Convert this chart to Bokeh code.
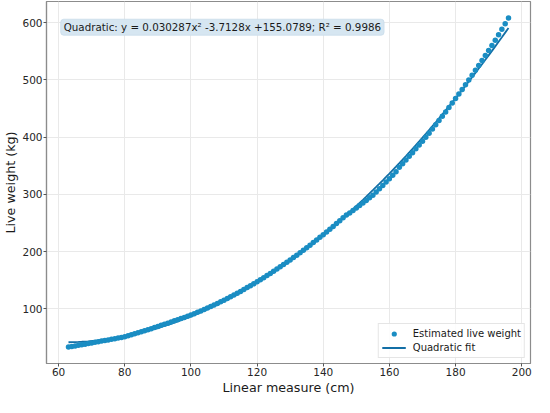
import numpy as np
from bokeh.plotting import figure
from bokeh.models import Range1d, FixedTicker, Label, Legend, LegendItem, ColumnDataSource
from bokeh.embed import file_html
from bokeh.resources import INLINE

# ---- data ----
MEASURE_START_CM = 63
MEASURE_END_CM = 196

WEIGHT_LOW = [33.0, 34.0, 35.0, 36.1, 37.1, 38.1, 39.2, 40.2, 41.3, 42.3, 43.4, 44.5,
              45.5, 46.6, 47.7, 48.8, 49.9, 51.0]
WEIGHT_MID1 = [52.7, 54.4, 56.2, 58.0, 59.8, 61.6, 63.4, 65.2, 67.1, 69.0, 70.9, 72.8,
               74.8, 76.8, 78.8, 80.8, 82.8, 84.8, 86.9, 89.0]
WEIGHT_MID2 = [91.3, 93.7, 96.2, 98.7, 101.3, 103.9, 106.6, 109.3, 112.2, 115.0,
               118.0, 121.0, 124.0, 127.1, 130.3, 133.6, 136.9, 140.2, 143.6, 147.1,
               150.7, 154.3, 157.9, 161.7, 165.4, 169.3, 173.2, 177.2, 181.2, 185.3,
               189.4, 193.6, 197.9, 202.2, 206.6, 211.1, 215.6, 220.2, 224.8, 229.5,
               234.2, 239.0, 243.9, 248.9, 253.9, 258.9, 264.0]
WEIGHT_DIP = [267.5, 271.7, 276.0, 280.4, 284.8, 289.3, 293.9, 298.6, 304.2, 309.9,
              315.6, 321.4, 327.3, 333.3, 339.4]
WEIGHT_HIGH = [347.5, 353.7, 360.0, 366.4, 372.9, 379.5, 386.2, 393.0, 399.9, 407.0,
               414.2, 421.5, 428.9, 436.4, 444.0, 451.7, 459.5, 467.4, 475.4, 483.5,
               491.7, 500.0, 508.4, 516.8, 525.3, 533.9, 542.6, 551.4, 560.4, 569.6,
               579.0, 588.6, 598.4, 608.4]

WEIGHT_KG = WEIGHT_LOW + WEIGHT_MID1 + WEIGHT_MID2 + WEIGHT_DIP + WEIGHT_HIGH
MEASURE_CM = list(range(MEASURE_START_CM, MEASURE_END_CM + 1))

FIT_A, FIT_B, FIT_C = 0.030287, -3.7128, 155.0789
R2 = 0.9986

X_TICKS = [60, 80, 100, 120, 140, 160, 180, 200]
Y_TICKS = [100, 200, 300, 400, 500, 600]

# ---- derived ----
xs = np.array(MEASURE_CM, dtype=float)
ys = np.array(WEIGHT_KG)
fit_y = FIT_A * xs ** 2 + FIT_B * xs + FIT_C

xpad = (xs.max() - xs.min()) * 0.05
ymin, ymax = min(ys.min(), fit_y.min()), max(ys.max(), fit_y.max())
ypad = (ymax - ymin) * 0.05

FONT = "DejaVu Sans"
DOT_COLOR = "#1a8dc3"
LINE_COLOR = "#136fa6"

p = figure(width=534, height=397, output_backend="svg", toolbar_location=None,
           x_range=Range1d(xs.min() - xpad, xs.max() + xpad),
           y_range=Range1d(ymin - ypad, ymax + ypad),
           min_border_left=30, min_border_right=4, min_border_top=1, min_border_bottom=20)

src = ColumnDataSource(dict(x=xs, y=ys, fy=fit_y))
r_fit = p.line("x", "fy", source=src, line_color=LINE_COLOR, line_width=1.8)
r_pts = p.scatter("x", "y", source=src, size=5.5, color=DOT_COLOR, line_color=None)

p.xaxis.ticker = FixedTicker(ticks=X_TICKS)
p.yaxis.ticker = FixedTicker(ticks=Y_TICKS)
p.xaxis.axis_label = "Linear measure (cm)"
p.yaxis.axis_label = "Live weight (kg)"
for ax in (p.xaxis, p.yaxis):
    ax.axis_label_text_font = FONT
    ax.axis_label_text_font_size = "12.7px"
    ax.axis_label_text_font_style = "normal"
    ax.axis_label_text_color = "#1a1a1a"
    ax.axis_label_standoff = 1
    ax.major_label_text_font = FONT
    ax.major_label_text_font_size = "10.5px"
    ax.major_label_text_color = "#262626"
    ax.major_label_standoff = 1
    ax.major_tick_out = 3
    ax.major_tick_in = 0
    ax.minor_tick_out = 0
    ax.minor_tick_in = 0
    ax.major_tick_line_color = "#555555"
    ax.axis_line_color = "#8c8c8c"
    ax.axis_line_width = 1.2

p.outline_line_color = "#8c8c8c"
p.outline_line_width = 1.2
p.grid.grid_line_color = "#e9e9e9"
p.grid.grid_line_width = 1
p.background_fill_color = "white"

eq = (f"Quadratic: y = {FIT_A:.6f}x\u00b2 {FIT_B:.4f}x +{FIT_C:.4f}; "
      f"R\u00b2 = {R2:.4f}")
lab = Label(x=xs.min() - xpad + 4.3, y=ymax + ypad - 31, x_units="data", y_units="data",
            text=eq, text_font=FONT, text_font_size="10.3px", text_color="#1a1a1a",
            anchor="top_left", padding=(3, 2),
            background_fill_color="#d6e6f1", background_fill_alpha=1.0,
            border_line_color="#c9dceb", border_line_alpha=0.8, border_radius=3)
p.add_layout(lab)

legend = Legend(items=[LegendItem(label="Estimated live weight", renderers=[r_pts]),
                       LegendItem(label="Quadratic fit", renderers=[r_fit])],
                location="bottom_right", margin=5, padding=3, spacing=1,
                glyph_width=24, glyph_height=13, label_height=13, label_standoff=7,
                label_text_font=FONT, label_text_font_size="10px", label_text_color="#1a1a1a",
                border_line_color="#cccccc", border_line_width=1,
                background_fill_color="white", background_fill_alpha=0.85)
p.add_layout(legend)

open("out.html", "w").write(file_html(p, INLINE))
